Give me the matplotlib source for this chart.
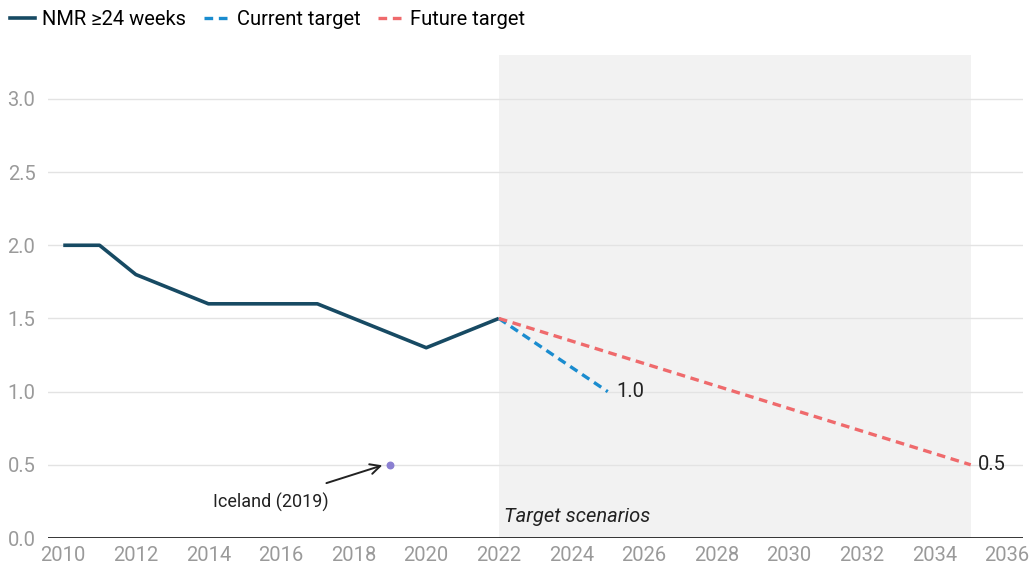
import matplotlib
matplotlib.use("Agg")
import matplotlib.pyplot as plt
from matplotlib.lines import Line2D

plt.rcParams['font.family'] = ['Roboto', 'DejaVu Sans']

years = [2010, 2011, 2012, 2013, 2014, 2015, 2016, 2017, 2018, 2019, 2020, 2021, 2022]
nmr = [2.0, 2.0, 1.8, 1.7, 1.6, 1.6, 1.6, 1.6, 1.5, 1.4, 1.3, 1.4, 1.5]
current_years = [2022, 2025]
current_vals = [1.5, 1.0]
future_years = [2022, 2035]
future_vals = [1.5, 0.5]
iceland_year = [2019]
iceland_val = [0.5]
xticks = list(range(2010, 2037, 2))
yticks = [0.0, 0.5, 1.0, 1.5, 2.0, 2.5, 3.0]

c_nmr = '#174a63'
c_cur = '#1a8ccf'
c_fut = '#ef6a6c'
dash = (0, (2.6, 1.7))

fig = plt.figure(figsize=(10.3, 5.71), dpi=100)
ax = fig.add_axes([48/1030, 1-538/571, (1023-48)/1030, (538-55)/571])
ax.set_xlim(2009.58, 2036.44)
ax.set_ylim(0, 3.3)

ax.axvspan(2022, 2035, color='#f2f2f2', zorder=0, lw=0)
for y in yticks[1:]:
    ax.axhline(y, color='#e3e3e3', lw=1, zorder=1)
ax.axhline(0, color='#222222', lw=2, zorder=3)

ax.plot(years, nmr, color=c_nmr, lw=2.6, zorder=4, solid_capstyle='butt')
ax.plot(current_years, current_vals, color=c_cur, lw=2.4, ls=dash, zorder=4)
ax.plot(future_years, future_vals, color=c_fut, lw=2.4, ls=dash, zorder=4)
ax.scatter(iceland_year, iceland_val, color='#8a7fd1', s=22, zorder=5)

ax.text(current_years[-1] + 0.25, current_vals[-1], '1.0', fontsize=14.5, va='center', ha='left', color='#222222')
ax.text(future_years[-1] + 0.2, future_vals[-1], '0.5', fontsize=14.5, va='center', ha='left', color='#222222')
ax.annotate('', xy=(2018.9, 0.505), xytext=(2017.25, 0.375),
            arrowprops=dict(arrowstyle='->', color='#222222', lw=1.4,
                            shrinkA=0, shrinkB=3, mutation_scale=18))
ax.text(2017.3, 0.245, 'Iceland (2019)', fontsize=13, ha='right', va='center', color='#222222')
ax.text(2022.15, 0.15, 'Target scenarios', fontsize=14.5, style='italic', ha='left', va='center', color='#222222')

ax.set_xticks(xticks)
ax.set_yticks(yticks)
ax.set_yticklabels([f'{v:.1f}' for v in yticks])
ax.tick_params(axis='both', length=0, labelsize=14.5, colors='#9a9a9a', labelcolor='#9a9a9a')
ax.tick_params(axis='y', pad=9)
ax.tick_params(axis='x', pad=6)
for s in ax.spines.values():
    s.set_visible(False)

handles = [Line2D([], [], color=c_nmr, lw=2.6),
           Line2D([], [], color=c_cur, lw=2.4, ls=dash),
           Line2D([], [], color=c_fut, lw=2.4, ls=dash)]
fig.legend(handles, ['NMR ≥24 weeks', 'Current target', 'Future target'],
           loc='upper left', bbox_to_anchor=(0.0, 1.0), ncol=3, frameon=False,
           fontsize=14.5, handlelength=1.25, handletextpad=0.35, columnspacing=0.9,
           borderaxespad=0.2, borderpad=0.3)

fig.savefig('out.png', dpi=100)
